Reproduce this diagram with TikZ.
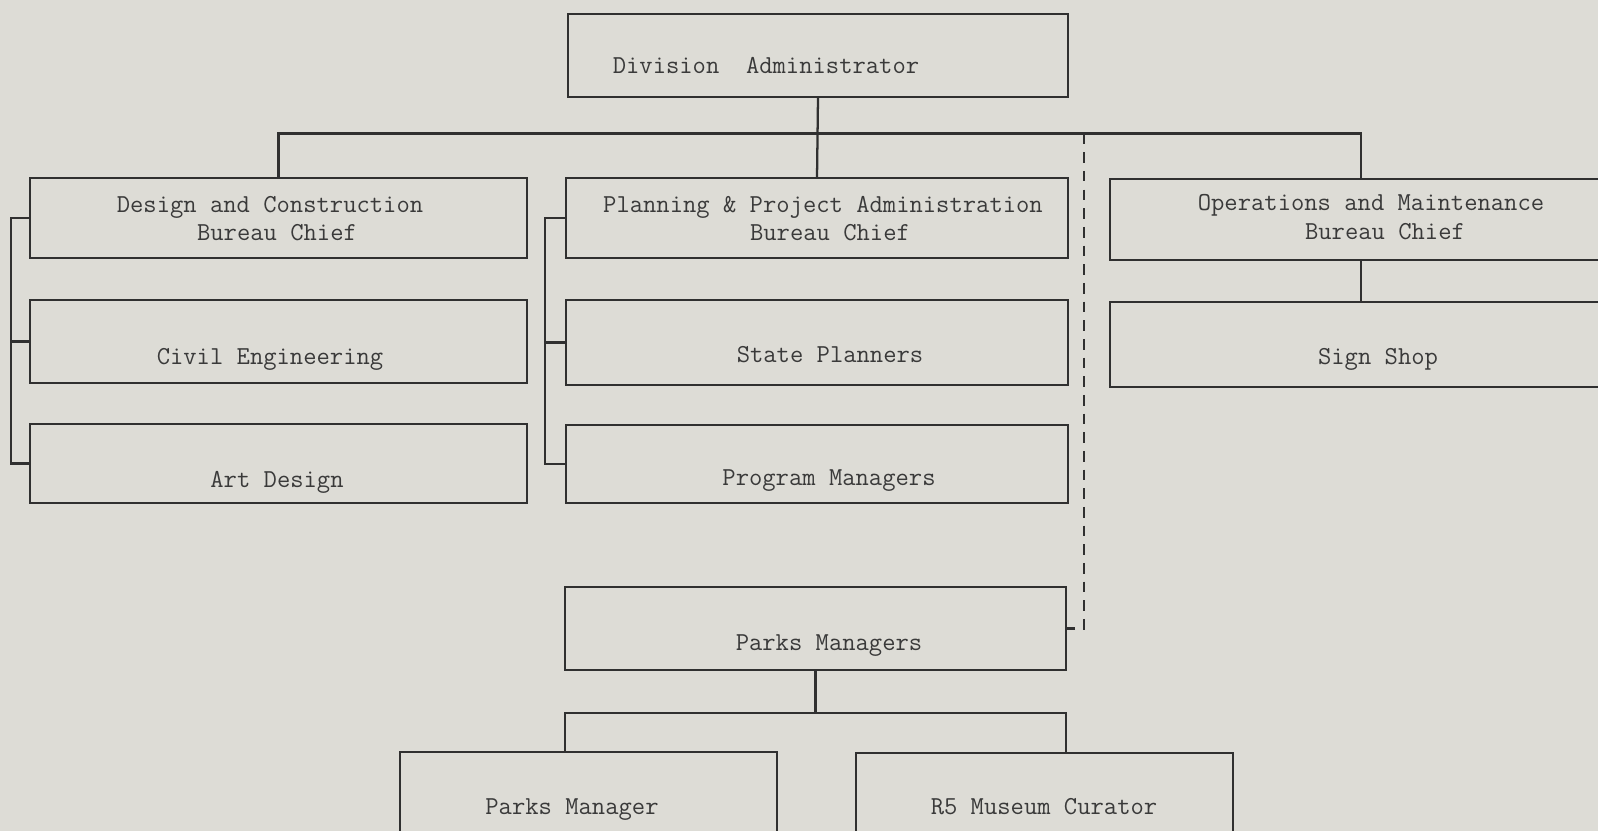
\documentclass[tikz,border=0pt]{standalone}
\usepackage{fontspec}
\definecolor{paper}{RGB}{221,220,214}
\definecolor{ink}{RGB}{48,48,48}
\definecolor{typeink}{RGB}{58,58,58}
\tikzset{
  box/.style={draw=ink, line width=1.8pt, rectangle, inner sep=0pt, outer sep=0pt},
  wire/.style={draw=ink, line width=1.7pt},
  dotted link/.style={wire, dash pattern=on 8pt off 6pt},
  label text/.style={font=\ttfamily\fontsize{19.4}{23}\selectfont, text=typeink,
    inner sep=0pt, anchor=base},
}
% \orgbox{name}{left}{top}{right}{bottom}, in pixel units
\newcommand\orgbox[5]{%
  \node[box, minimum width={(#4-#2)*0.75pt}, minimum height={(#5-#3)*0.75pt}]
    (#1) at ({(#2+#4)/2},{(#3+#5)/2}) {};}
\begin{document}
\begin{tikzpicture}[x=0.75pt, y=-0.75pt]
\clip (0,0) rectangle (1598,831);
\fill[paper] (0,0) rectangle (1598,831);

% boxes
\orgbox{div}{568}{14}{1068}{97}
\orgbox{dc}{30}{178}{527}{258}
\orgbox{ce}{30}{300}{527}{383}
\orgbox{ad}{30}{424}{527}{503}
\orgbox{pp}{566}{178}{1068}{258}
\orgbox{sp}{566}{300}{1068}{385}
\orgbox{pg}{566}{425}{1068}{503}
\orgbox{om}{1110}{179}{1612}{260}
\orgbox{ss}{1110}{302}{1612}{387}
\orgbox{pms}{565}{587}{1066}{670}
\orgbox{pm}{400}{752}{777}{860}
\orgbox{rc}{856}{753}{1233}{860}

% labels
\node[label text] (divT) at (766,74) {Division~~Administrator};
\node[label text] (dcT1) at (270,212) {Design and Construction};
\node[label text] (dcT2) at (277,240) {Bureau Chief};
\node[label text] (ceT) at (270,364) {Civil Engineering};
\node[label text] (adT) at (277,487) {Art Design};
\node[label text] (ppT1) at (823,212) {Planning \& Project Administration};
\node[label text] (ppT2) at (830,240) {Bureau Chief};
\node[label text] (spT) at (830,362) {State Planners};
\node[label text] (pgT) at (829,485) {Program Managers};
\node[label text] (omT1) at (1371,210) {Operations and Maintenance};
\node[label text] (omT2) at (1385,239) {Bureau Chief};
\node[label text] (ssT) at (1378,364) {Sign Shop};
\node[label text] (pmsT) at (829,650) {Parks Managers};
\node[label text] (pmT) at (572,814) {Parks Manager};
\node[label text] (rcT) at (1044,814) {R5 Museum Curator};

% junction points
\coordinate (bus) at (816,133.5);
\coordinate (dash top) at (1084,133.5);
\coordinate (left rail) at (11,0);
\coordinate (mid rail) at (545,0);
\coordinate (park bus) at (815,713);

% top level
\draw[wire] (div.south) -- (pp.north);
\draw[wire] (dc.north) |- (om.north |- bus) -- (om.north);
\draw[dotted link] (dash top) |- (pms.east);

% bureau brackets
\draw[wire] (dc.west) -- (dc.west -| left rail) -- (ad.west -| left rail) -- (ad.west);
\draw[wire] (ce.west) -- (ce.west -| left rail);
\draw[wire] (pp.west) -- (pp.west -| mid rail) -- (pg.west -| mid rail) -- (pg.west);
\draw[wire] (sp.west) -- (sp.west -| mid rail);
\draw[wire] (om.south) -- (ss.north);

% parks branch
\draw[wire] (pms.south) -- (pms.south |- park bus);
\draw[wire] (pms.south west |- pm.north) -- (pms.south west |- park bus)
  -- (pms.south east |- park bus) -- (pms.south east |- rc.north);
\end{tikzpicture}
\end{document}
